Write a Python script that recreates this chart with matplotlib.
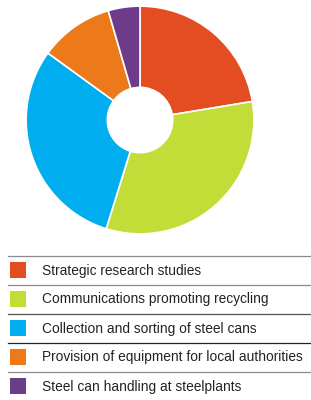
import matplotlib
matplotlib.use('Agg')
import matplotlib.pyplot as plt
from matplotlib.patches import Rectangle

plt.rcParams['font.family'] = ['Liberation Sans', 'DejaVu Sans']

# shares of the budget (percent)
labels = ['Strategic research studies',
          'Communications promoting recycling',
          'Collection and sorting of steel cans',
          'Provision of equipment for local authorities',
          'Steel can handling at steelplants']
values = [22.4, 32.4, 30.2, 10.5, 4.5]
colors = ['#E44D22', '#C3DD38', '#00AEEF', '#EC7A1B', '#6E3A8A']
line_colors = ['#8a8a8a', '#8a8a8a', '#555555', '#222222', '#8a8a8a']

W, H = 311, 400
fig = plt.figure(figsize=(W / 100, H / 100), dpi=100)

# donut
cx, cy, r, r_in = 140, 120, 115, 33
ax = fig.add_axes([(cx - r) / W, (H - cy - r) / H, 2 * r / W, 2 * r / H])
ax.pie(values, colors=colors, startangle=90, counterclock=False, radius=1,
       wedgeprops=dict(width=1 - r_in / r, edgecolor='white', linewidth=1.2))
ax.set_xlim(-1.01, 1.01)
ax.set_ylim(-1.01, 1.01)
ax.set_aspect('equal')
ax.axis('off')

# legend table drawn in pixel coords
lg = fig.add_axes([0, 0, 1, 1])
lg.set_xlim(0, W)
lg.set_ylim(H, 0)
lg.axis('off')

top = 256
step = 29
for i, lab in enumerate(labels):
    y0 = top + i * step
    lg.plot([8, W], [y0, y0], color=line_colors[i], lw=0.9)
    lg.add_patch(Rectangle((10, y0 + 6), 16, 16, color=colors[i], lw=0))
    lg.text(42, y0 + 14.5, lab, fontsize=9.9, color='#222222', va='center', ha='left')

fig.savefig('out.png', dpi=100)
